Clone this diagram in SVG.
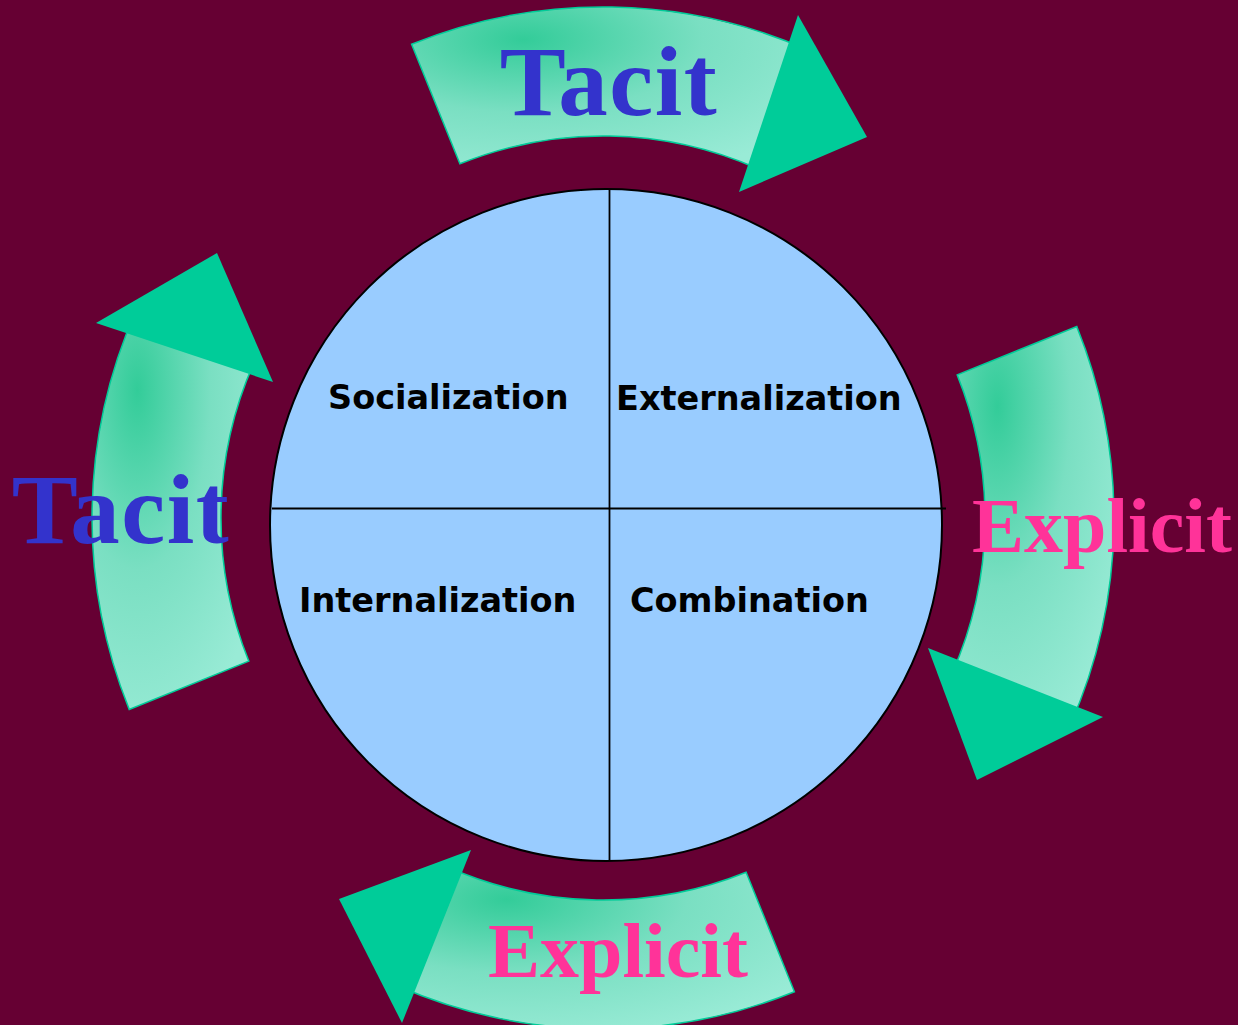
<svg xmlns="http://www.w3.org/2000/svg" width="1238" height="1025" viewBox="0 0 1238 1025">
<defs>
<radialGradient id="bandGrad" cx="0.28" cy="0.2" r="0.9" fx="0.28" fy="0.2">
<stop offset="0" stop-color="#33cc99"/>
<stop offset="0.5" stop-color="#7adfc2"/>
<stop offset="1" stop-color="#99ebd6"/>
</radialGradient>
</defs>
<style>
.band{fill:url(#bandGrad);stroke:#00cc99;stroke-width:1.5}
.head{fill:#00cc99;stroke:none}
.quad{font-family:"DejaVu Sans",Verdana,sans-serif;font-weight:bold;font-size:33.5px;fill:#000}
.big{font-family:"Liberation Serif","Times New Roman",serif;font-weight:bold;text-anchor:middle}
.tacit{fill:#3333cc;font-size:99px;letter-spacing:1.5px}
.explicit{fill:#ff3399;font-size:78px}
.div{stroke:#000;stroke-width:1.8;fill:none}
</style>
<rect x="0" y="0" width="1238" height="1025" fill="#660033"/>
<g id="connectors">
<g id="arrow-top">
<path class="band" d="M411.6,44.2 A511,511 0 0 1 810.8,51.2 L758.4,169.0 A382,382 0 0 0 459.9,163.8 Z"/>
<polygon class="head" points="798,15 867,137 739,192"/>
</g>
<g id="arrow-right">
<path class="band" d="M1076.8,326.6 A511,511 0 0 1 1069.8,725.8 L952.0,673.4 A382,382 0 0 0 957.2,374.9 Z"/>
<polygon class="head" points="928,648 1103,717 977,780"/>
</g>
<g id="arrow-bottom">
<path class="band" d="M794.4,991.8 A511,511 0 0 1 395.2,984.8 L447.6,867.0 A382,382 0 0 0 746.1,872.2 Z"/>
<polygon class="head" points="471,850 339,899 402,1023"/>
</g>
<g id="arrow-left">
<path class="band" d="M129.2,709.4 A511,511 0 0 1 136.2,310.2 L254.0,362.6 A382,382 0 0 0 248.8,661.1 Z"/>
<polygon class="head" points="96,323 217,253 273,382"/>
</g>
</g>
<g id="cycle">
<circle cx="606" cy="525" r="336" fill="#99ccff" stroke="#000" stroke-width="2"/>
<line class="div" x1="272" y1="508.5" x2="946" y2="508.5"/>
<line class="div" x1="609.5" y1="189" x2="609.5" y2="861"/>
</g>
<g id="socialization"><text class="quad" x="328" y="409">Socialization</text></g>
<g id="externalization"><text class="quad" x="616" y="410">Externalization</text></g>
<g id="internalization"><text class="quad" x="299" y="612">Internalization</text></g>
<g id="combination"><text class="quad" x="630" y="612">Combination</text></g>
<g id="label-tacit-top"><text class="big tacit" x="609" y="115">Tacit</text></g>
<g id="label-tacit-left"><text class="big tacit" x="121" y="543">Tacit</text></g>
<g id="label-explicit-right"><text class="big explicit" x="1102" y="552">Explicit</text></g>
<g id="label-explicit-bottom"><text class="big explicit" x="618" y="977">Explicit</text></g>
</svg>
